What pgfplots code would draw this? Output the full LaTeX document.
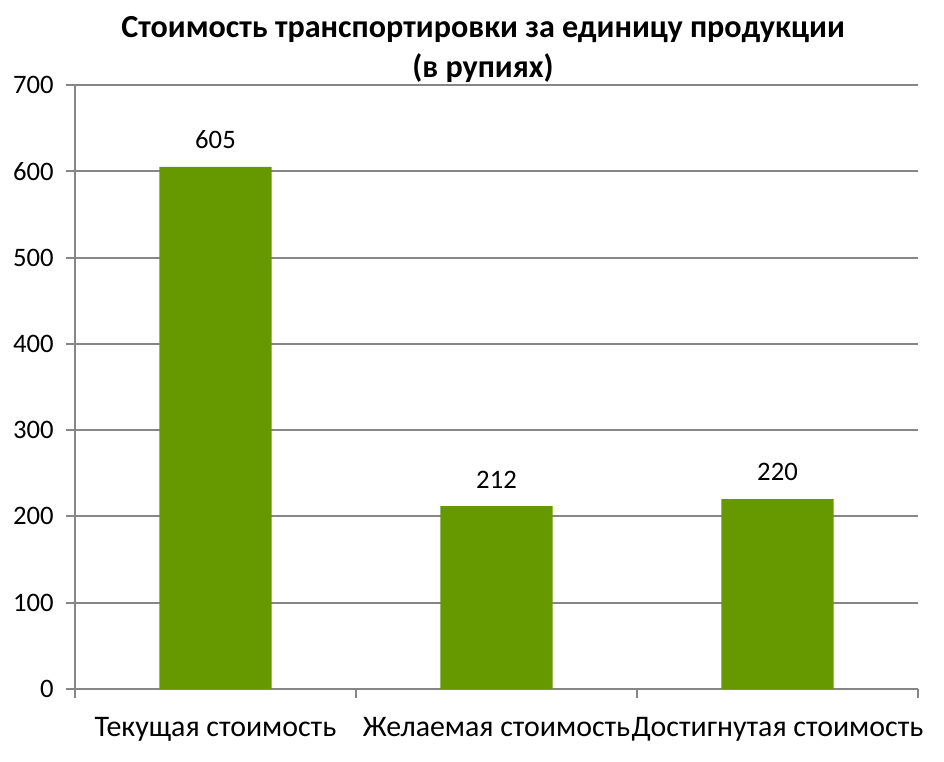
\documentclass[border=0pt]{standalone}
\usepackage{pgfplots}
\pgfplotsset{compat=1.18}
\usepackage{fontspec}
\setmainfont{Carlito}
\definecolor{bargreen}{RGB}{102,153,0}
\definecolor{axgray}{RGB}{134,134,134}
\begin{document}
\begin{tikzpicture}
\path[use as bounding box] (0,0) rectangle (708pt,570.75pt);
\begin{axis}[
  at={(56.25pt,54pt)}, anchor=south west,
  scale only axis, width=632.25pt, height=453pt,
  xmin=-0.5, xmax=2.5, ymin=0, ymax=700,
  ytick={0,100,...,700},
  xtick={-0.5,0.5,1.5,2.5},
  xticklabels={},
  extra x ticks={0,1,2},
  extra x tick labels={Текущая стоимость, Желаемая стоимость, Достигнутая стоимость},
  extra x tick style={major tick length=0pt, grid=none},
  axis lines=left,
  axis line style={-, draw=axgray, line width=1.4pt},
  tick style={draw=axgray, line width=1.4pt},
  tick align=outside,
  major tick length=6.5pt,
  ymajorgrids,
  grid style={draw=axgray, line width=1.4pt},
  /pgf/number format/assume math mode=true,
  yticklabel style={font=\fontsize{20}{24}\selectfont, xshift=-6pt},
  xticklabel style={font=\fontsize{22.4}{27}\selectfont, yshift=-18pt},
  clip=false,
]
\addplot[ybar, bar width=0.4, fill=bargreen, draw=none,
  nodes near coords,
  nodes near coords style={font=\fontsize{20}{24}\selectfont, color=black, anchor=south, yshift=10pt}]
  coordinates {(0,605) (1,212) (2,220)};
\end{axis}
\node[align=center, font=\bfseries\fontsize{24.1}{30}\selectfont] at (362.25pt,534pt)
  {Стоимость транспортировки за единицу продукции\\(в рупиях)};
\end{tikzpicture}
\end{document}
